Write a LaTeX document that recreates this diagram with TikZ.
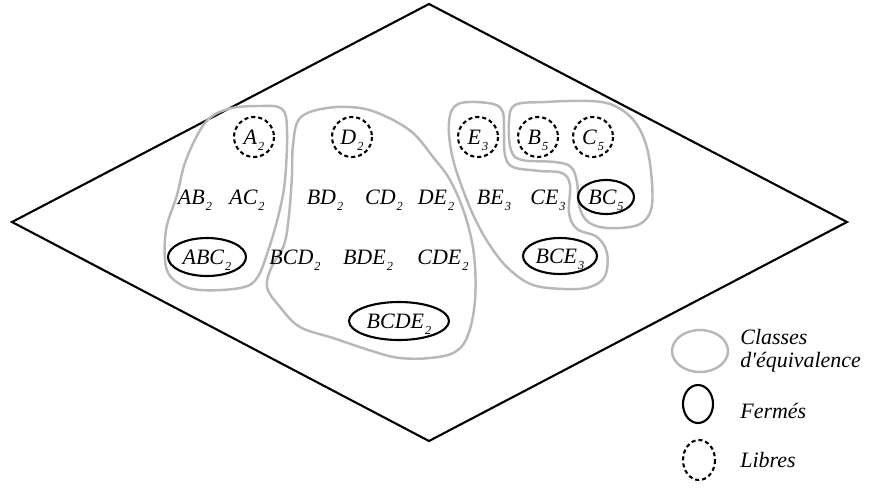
\documentclass[tikz,border=0pt]{standalone}
\usepackage{fontspec}
\setmainfont{Liberation Serif}
\newcommand{\lsub}[1]{\kern0.6pt\smash{\raisebox{-3.4pt}{\fontsize{7}{8}\selectfont #1}}}
\begin{document}
\begin{tikzpicture}[x=0.02cm,y=-0.02cm,font=\itshape\fontsize{12.5}{13}\selectfont]
	\tikzstyle{classe}=[draw=black!28, line width=1.4pt]
	\tikzstyle{ferme}=[draw, line width=1.2pt]
	\tikzstyle{libre}=[draw, line width=1.2pt, dash pattern=on 2.3pt off 1.7pt]
	\useasboundingbox (0,0) rectangle (871,487);
	% losange
	\coordinate (haut) at (429,4);
	\coordinate (droite) at (847,222);
	\coordinate (bas) at (429,441);
	\coordinate (gauche) at (12,222);
	\draw[line width=1.2pt] (haut) -- (droite) -- (bas) -- (gauche) -- cycle;
	% classes d'equivalence
	\draw[classe] plot[smooth cycle, tension=0.6] coordinates {(260,106) (282,109) (287,130) (285,180) (279,213) (269,248) (257,278) (240,288) (200,290) (178,283) (166,267) (166,230) (177,195) (186,160) (205,123) (228,109)};
	\draw[classe] plot[smooth cycle, tension=0.6] coordinates {(300,118) (327,108) (360,108) (387,117) (413,133) (433,157) (450,180) (465,215) (474,255) (475,300) (468,335) (455,352) (430,358) (400,358) (375,352) (333,338) (300,327) (280,307) (267,287) (272,266) (284,245) (289,215) (292,175) (293,145)};
	\draw[classe] plot[smooth cycle, tension=0.6] coordinates {(458,104) (488,103) (502,110) (504,130) (505,155) (513,167) (540,171) (562,173) (570,185) (569,213) (577,229) (597,237) (607,253) (605,276) (590,287) (565,289) (533,285) (510,270) (493,250) (477,223) (463,190) (452,155) (449,122)};
	\draw[classe] plot[smooth cycle, tension=0.6] coordinates {(515,105) (545,102) (590,101) (615,106) (635,122) (647,148) (652,183) (651,210) (640,224) (620,228) (600,227) (586,220) (579,205) (577,182) (571,167) (555,162) (522,160) (511,150) (509,122)};
	% libres
	\node (a) at (254,137) {A\lsub{2}};
	\node (d) at (352,137) {D\lsub{2}};
	\node (e) at (478,137) {E\lsub{3}};
	\node (b) at (538,137) {B\lsub{5}};
	\node (c) at (593,137) {C\lsub{5}};
	\foreach \n in {a,d,e,b,c}
		\draw[libre] (\n) circle [radius=20];
	% niveau 2
	\node (ab) at (195,197) {AB\lsub{2}};
	\node (ac) at (247,197) {AC\lsub{2}};
	\node (bd) at (325,197) {BD\lsub{2}};
	\node (cd) at (384,197) {CD\lsub{2}};
	\node (de) at (436,197) {DE\lsub{2}};
	\node (be) at (494,197) {BE\lsub{3}};
	\node (ce) at (548,197) {CE\lsub{3}};
	\node (bc) at (606,197) {BC\lsub{5}};
	\draw[ferme] (bc) ellipse [x radius=28, y radius=17];
	% niveau 3
	\node (abc) at (207,257) {ABC\lsub{2}};
	\node (bcd) at (295,257) {BCD\lsub{2}};
	\node (bde) at (368,257) {BDE\lsub{2}};
	\node (cde) at (443,257) {CDE\lsub{2}};
	\node (bce) at (560,256) {BCE\lsub{3}};
	\draw[ferme] (abc) ellipse [x radius=39, y radius=19];
	\draw[ferme] (bce) ellipse [x radius=37, y radius=18];
	% niveau 4
	\node (bcde) at (399,321) {BCDE\lsub{2}};
	\draw[ferme] (bcde) ellipse [x radius=50, y radius=19];
	% legende
	\coordinate (lclasse) at (700,351);
	\coordinate (lferme) at (698,404);
	\coordinate (llibre) at (699,460);
	\draw[classe] (lclasse) ellipse [x radius=28, y radius=21];
	\draw[ferme] (lferme) ellipse [x radius=15, y radius=19];
	\draw[libre] (llibre) ellipse [x radius=16, y radius=20];
	\node[anchor=west, align=left, inner sep=0pt] (tclasse) at (740,351) {Classes\\d\textquotesingle\'equivalence};
	\node[anchor=west, inner sep=0pt] (tferme) at (740,411) {Fermés};
	\node[anchor=west, inner sep=0pt] (tlibre) at (740,460) {Libres};
\end{tikzpicture}
\end{document}
